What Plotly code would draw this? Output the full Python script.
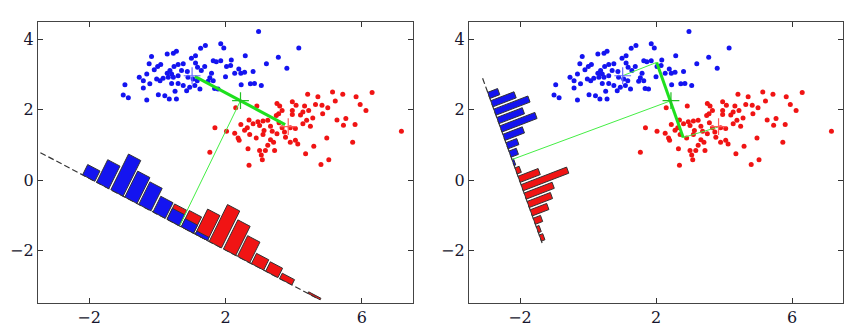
import plotly.graph_objects as go

# ---------------- data ----------------
blue_x = [1.41, 1.27, 0.56, 0.47, 0.29, -0.17, 1.00, 1.12, -0.24, 0.10, 0.01, 0.76, 0.61, 0.49,
          1.12, 1.18, 1.29, -0.09, 0.37, 0.29, 0.42, -0.31, -0.53, -0.41, -0.02, 0.08, 0.17, 0.47,
          0.61, 0.71, 0.88, 0.90, 1.05, 1.17, -0.22, -0.41, -0.95, 0.42, 0.61, 0.76, 0.95, 1.10,
          0.86, 0.52, 0.03, 0.22, -1.00, -0.85, -0.31, 0.35, 0.56, 1.25, 0.32,
          2.97, 1.86, 1.95, 4.15, 2.58, 3.55, 1.64, 1.73, 1.86, 2.17, 2.15, 2.03, 3.20, 3.80, 1.39,
          2.39, 2.45, 2.27, 2.56, 2.81, 1.59, 1.54, 2.00, 1.64, 1.49, 2.46, 2.73, 2.85, 3.05, 1.68, 1.78]
blue_y = [3.83, 3.75, 3.67, 3.61, 3.59, 3.52, 3.47, 3.54, 3.31, 3.29, 3.23, 3.31, 3.29, 3.23,
          3.33, 3.21, 3.12, 3.14, 3.12, 3.04, 3.02, 3.02, 2.93, 2.83, 2.88, 2.83, 2.90, 2.93,
          2.97, 3.12, 3.09, 2.93, 2.88, 2.83, 2.74, 2.62, 2.71, 2.75, 2.75, 2.69, 2.64, 2.69,
          2.54, 2.53, 2.43, 2.40, 2.42, 2.34, 2.28, 2.31, 2.31, 2.59, 2.93,
          4.23, 3.88, 3.76, 3.76, 3.54, 3.50, 3.40, 3.37, 3.40, 3.42, 3.26, 3.23, 3.31, 3.18, 3.23,
          3.16, 3.04, 3.04, 3.07, 3.09, 3.04, 2.91, 2.94, 2.83, 2.81, 2.71, 2.74, 2.75, 2.69, 2.61, 2.59]

red_x = [4.41, 4.71, 5.14, 5.44, 5.83, 6.30, 5.22, 5.95, 6.12, 3.96, 4.07, 3.51, 3.59, 2.92,
         2.30, 4.32, 4.64, 4.83, 5.00, 4.44, 4.27, 4.20, 3.96, 3.66, 3.56, 3.49, 3.96, 4.85,
         4.56, 4.38, 2.69, 2.45, 2.95, 3.10, 3.24, 3.32, 3.57, 3.00, 2.81, 2.64, 2.56, 3.13,
         3.37, 3.66, 3.90, 4.05, 4.27, 4.49, 5.27, 5.53, 5.46, 5.80, 1.69, 2.03, 2.27, 2.37,
         2.40, 2.71, 2.90, 3.10, 3.51, 3.73, 3.76, 3.90, 4.05, 4.12, 3.32, 3.41, 3.24, 3.17,
         3.00, 3.05, 3.08, 3.44, 2.66, 1.54, 4.35, 4.59, 4.97, 5.73, 7.16, 5.03, 4.80, 2.69]
red_y = [2.44, 2.37, 2.51, 2.44, 2.37, 2.49, 2.25, 2.15, 1.98, 2.23, 2.13, 2.18, 2.11, 2.11,
         2.06, 2.11, 2.15, 2.13, 2.06, 1.98, 1.94, 1.85, 1.98, 1.98, 1.89, 1.84, 1.87, 1.89,
         1.77, 1.70, 1.71, 1.58, 1.66, 1.68, 1.70, 1.53, 1.63, 1.55, 1.60, 1.49, 1.42, 1.41,
         1.39, 1.49, 1.49, 1.47, 1.60, 1.53, 1.71, 1.75, 1.56, 1.58, 1.49, 1.39, 1.33, 1.20,
         1.13, 1.30, 1.20, 1.30, 1.32, 1.37, 1.22, 1.08, 1.13, 1.03, 1.15, 1.08, 0.99, 0.84,
         0.84, 0.71, 0.58, 0.84, 0.89, 0.79, 0.75, 0.96, 1.20, 1.08, 1.39, 0.58, 0.44, 0.42]

means_x = [1.02, 3.84]
means_y = [2.97, 1.52]
mid_x = [2.44]
mid_y = [2.26]

# projection lines (start, end)
left_line_x = [-3.43, 4.66]
left_line_y = [0.78, -3.35]
right_line_x = [-3.10, -1.35]
right_line_y = [2.90, -1.79]

# histograms: bin start along the projection line, bar heights
left_bin_t = [1.36, 1.82, 2.29, 2.75, 3.21, 3.68, 4.14, 4.61, 5.07, 5.53, 6.00, 6.46,
              6.92, 7.39, 7.85, 8.32, 8.78]
left_bin_w = 0.464
left_blue_h = [0.33, 0.72, 1.14, 0.83, 0.72, 0.50, 0.35, 0.26, 0.10, 0, 0, 0, 0, 0, 0, 0, 0]
left_red_h = [0, 0, 0, 0, 0, 0, 0.49, 0.52, 0.80, 1.18, 0.93, 0.66, 0.33, 0.30, 0.17, 0, 0.05]

right_bin_t = [0.395, 0.65, 0.905, 1.16, 1.415, 1.67, 1.925, 2.18, 2.435, 2.69, 2.945, 3.20,
               3.455, 3.71, 3.965, 4.22, 4.475, 4.73]
right_bin_w = 0.255
right_blue_h = [0.31, 0.73, 1.07, 0.80, 1.10, 0.61, 0.34, 0.23, 0.05, 0, 0, 0, 0, 0, 0, 0, 0, 0]
right_red_h = [0, 0, 0, 0, 0, 0, 0, 0, 0, 0.13, 0.63, 1.43, 0.88, 0.73, 0.52, 0.23, 0.09, 0.11]

# green construction lines
left_thick_x = [1.10, 3.75]
left_thick_y = [2.95, 1.58]
left_thin_x = [2.44, 0.66]
left_thin_y = [2.26, -1.29]
right_thin_x = [1.02, 2.02, None, 2.80, 3.83, None, 2.44, -2.22]
right_thin_y = [2.97, 3.35, None, 1.21, 1.51, None, 2.26, 0.59]
right_thick_x = [2.02, 2.80]
right_thick_y = [3.35, 1.21]

BLUE = "#1414f0"
RED = "#f01414"


def bar_polys(lx, ly, t_list, w, h_list, inset):
    dx, dy = lx[1] - lx[0], ly[1] - ly[0]
    L = (dx * dx + dy * dy) ** 0.5
    ux, uy = dx / L, dy / L
    nx, ny = -uy, ux
    xs, ys = [], []
    for t, h in zip(t_list, h_list):
        if h <= 0:
            continue
        a, b = t + inset, t + w - inset
        bx0, by0 = lx[0] + ux * a, ly[0] + uy * a
        bx1, by1 = lx[0] + ux * b, ly[0] + uy * b
        xs += [bx0, bx1, bx1 + nx * h, bx0 + nx * h, bx0, None]
        ys += [by0, by1, by1 + ny * h, by0 + ny * h, by0, None]
    return xs, ys


fig = go.Figure()


def add_panel(xa, ya, lx, ly, bt, bw, bh, rh, inset, greens):
    fig.add_trace(go.Scatter(x=blue_x, y=blue_y, mode="markers", xaxis=xa, yaxis=ya,
                             marker=dict(color=BLUE, size=5)))
    fig.add_trace(go.Scatter(x=red_x, y=red_y, mode="markers", xaxis=xa, yaxis=ya,
                             marker=dict(color=RED, size=5)))
    fig.add_trace(go.Scatter(x=lx, y=ly, mode="lines", xaxis=xa, yaxis=ya,
                             line=dict(color="#333333", width=1.2, dash="6px,3px")))
    rx, ry = bar_polys(lx, ly, bt, bw, rh, inset)
    fig.add_trace(go.Scatter(x=rx, y=ry, mode="lines", fill="toself", fillcolor=RED,
                             xaxis=xa, yaxis=ya, line=dict(color="#333333", width=1)))
    bx, by = bar_polys(lx, ly, bt, bw, bh, inset)
    fig.add_trace(go.Scatter(x=bx, y=by, mode="lines", fill="toself", fillcolor=BLUE,
                             xaxis=xa, yaxis=ya, line=dict(color="#333333", width=1)))
    for gx, gy, wd, col in greens:
        fig.add_trace(go.Scatter(x=gx, y=gy, mode="lines", xaxis=xa, yaxis=ya,
                                 line=dict(color=col, width=wd)))
    for cx, cy, col in [([means_x[0]], [means_y[0]], "#6a6aff"),
                        ([means_x[1]], [means_y[1]], "#ff5a5a"),
                        (mid_x, mid_y, "#22c022")]:
        fig.add_trace(go.Scatter(x=cx, y=cy, mode="markers", xaxis=xa, yaxis=ya,
                                 marker=dict(symbol="cross-thin", size=12,
                                             line=dict(color=col, width=1.2))))


add_panel("x", "y", left_line_x, left_line_y, left_bin_t, left_bin_w, left_blue_h, left_red_h,
          0.03, [(left_thin_x, left_thin_y, 1, "#44ee44"), (left_thick_x, left_thick_y, 3, "#1ee01e")])
add_panel("x2", "y2", right_line_x, right_line_y, right_bin_t, right_bin_w, right_blue_h,
          right_red_h, 0.035,
          [(right_thin_x, right_thin_y, 1, "#44ee44"), (right_thick_x, right_thick_y, 3, "#1ee01e")])

W, H = 862, 334
tickfont = dict(family="DejaVu Serif", size=16, color="#16162e")
xcommon = dict(range=[-3.5, 7.5], tickvals=[-2, 2, 6], ticks="inside", ticklen=5,
               tickcolor="#333", showline=True, linecolor="#444", linewidth=1.2, mirror="ticks",
               showgrid=False, zeroline=False, tickfont=tickfont)
ycommon = dict(range=[-3.5, 4.5], tickvals=[-2, 0, 2, 4], ticks="inside", ticklen=5,
               tickcolor="#333", showline=True, linecolor="#444", linewidth=1.2, mirror="ticks",
               showgrid=False, zeroline=False, tickfont=tickfont)
ydom = [(H - 303) / H, (H - 22) / H]
fig.update_layout(
    width=W, height=H, margin=dict(l=0, r=0, t=0, b=0),
    paper_bgcolor="white", plot_bgcolor="white", showlegend=False,
    font=dict(family="DejaVu Serif"),
    xaxis=dict(xcommon, domain=[38 / W, 413 / W], anchor="y"),
    yaxis=dict(ycommon, domain=ydom, anchor="x"),
    xaxis2=dict(xcommon, domain=[469 / W, 843 / W], anchor="y2"),
    yaxis2=dict(ycommon, domain=ydom, anchor="x2"),
)
fig.write_html("out.html")
